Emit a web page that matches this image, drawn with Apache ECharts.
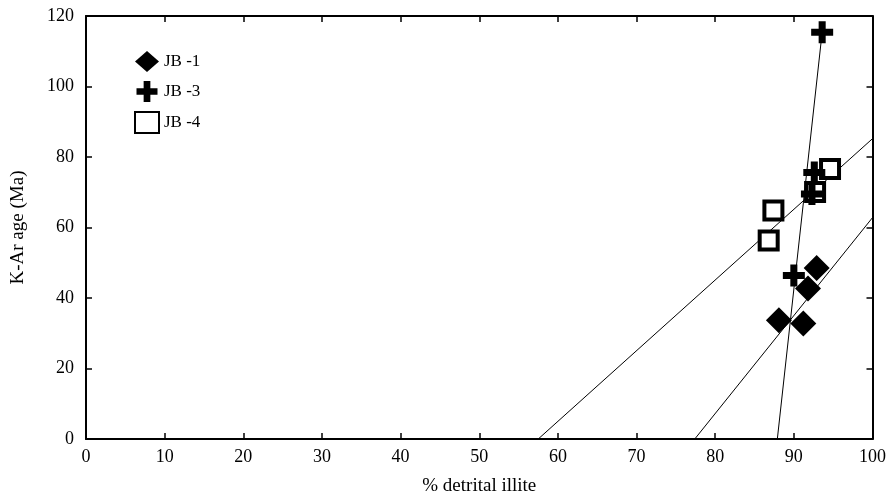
<!DOCTYPE html>
<html>
<head>
	<meta charset="UTF-8">
	<title>K-Ar age vs detrital illite</title>
	<script src="https://cdn.jsdelivr.net/npm/echarts@6/dist/echarts.min.js"></script>
	<style>
		html, body { margin: 0; padding: 0; background: #fff; }
		#main { width: 889px; height: 501px; }
	</style>
</head>
<body>
	<div id="main"></div>
	<script>
	// points: [% detrital illite, K-Ar age]
	var jb1 = [[88.1, 33.7], [91.2, 32.8], [91.8, 42.7], [92.9, 48.5]];
	var jb3 = [[90.0, 46.4], [92.3, 69.5], [92.6, 75.6], [93.6, 115.4]];
	var jb4 = [[86.8, 56.3], [87.4, 64.8], [92.7, 70.1], [94.6, 76.6]];

	// fitted lines, end points
	var fitJb1 = [[77.4, 0], [100, 62.8]];
	var fitJb3 = [[87.9, 0], [93.6, 115.4]];
	var fitJb4 = [[57.5, 0], [100, 85.2]];

	var serif = '"Liberation Serif", "DejaVu Serif", serif';
	var plusPath = 'path://M3.4,0H6.6V3.4H10V6.6H6.6V10H3.4V6.6H0V3.4H3.4Z';

	function xAxisOf(pos, showLabel) {
		return {
			type: 'value', position: pos, min: 0, max: 100, interval: 10,
			axisLine: { show: true, onZero: false, lineStyle: { color: '#000', width: 2 } },
			axisTick: { show: true, inside: true, length: 6, lineStyle: { color: '#000', width: 1.5 } },
			splitLine: { show: false },
			axisLabel: { show: showLabel, inside: false, color: '#000', fontFamily: serif, fontSize: 18, margin: 9 },
			name: showLabel ? '% detrital illite' : '',
			nameLocation: 'middle', nameGap: 38,
			nameTextStyle: { color: '#000', fontFamily: serif, fontSize: 19 }
		};
	}
	function yAxisOf(pos, showLabel) {
		return {
			type: 'value', position: pos, min: 0, max: 120, interval: 20,
			axisLine: { show: true, onZero: false, lineStyle: { color: '#000', width: 2 } },
			axisTick: { show: true, inside: true, length: 6, lineStyle: { color: '#000', width: 1.5 } },
			splitLine: { show: false },
			axisLabel: { show: showLabel, inside: false, color: '#000', fontFamily: serif, fontSize: 18, margin: 12 },
			name: showLabel ? 'K-Ar age (Ma)' : '',
			nameLocation: 'middle', nameGap: 58,
			nameTextStyle: { color: '#000', fontFamily: serif, fontSize: 19 }
		};
	}

	function fitLine(data) {
		return {
			type: 'line', data: data, symbol: 'none', silent: true,
			lineStyle: { color: '#000', width: 1 }, z: 1
		};
	}

	var myChart = echarts.init(document.getElementById('main'));
	var option = {
		animation: false,
		backgroundColor: '#fff',
		grid: { left: 86, right: 16, top: 16, bottom: 60 },
		xAxis: [xAxisOf('bottom', true), xAxisOf('top', false)],
		yAxis: [yAxisOf('left', true), yAxisOf('right', false)],
		legend: {
			orient: 'vertical', left: 129, top: 46, itemGap: 9,
			itemWidth: 24, itemHeight: 21,
			data: ['JB-1', 'JB-3', 'JB-4'],
			formatter: function(n) { return n.replace('-', ' -'); },
			textStyle: { color: '#000', fontFamily: serif, fontSize: 17 }
		},
		series: [
			fitLine(fitJb1), fitLine(fitJb3), fitLine(fitJb4),
			{
				name: 'JB-1', type: 'scatter', data: jb1,
				symbol: 'diamond', symbolSize: [26, 26],
				itemStyle: { color: '#000', opacity: 1 }, z: 3
			},
			{
				name: 'JB-3', type: 'scatter', data: jb3,
				symbol: plusPath, symbolSize: 22,
				itemStyle: { color: '#000', opacity: 1 }, z: 4
			},
			{
				name: 'JB-4', type: 'scatter', data: jb4,
				symbol: 'rect', symbolSize: 18,
				itemStyle: { color: '#fff', borderColor: '#000', borderWidth: 4, opacity: 1 }, z: 3
			}
		]
	};
	myChart.setOption(option);
	</script>
</body>
</html>
